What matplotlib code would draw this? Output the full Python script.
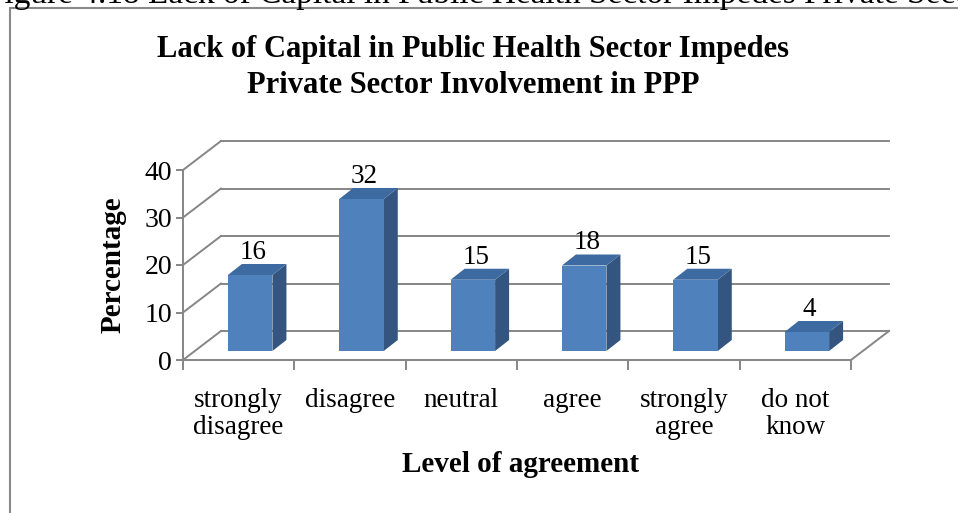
import numpy as np
import matplotlib.pyplot as plt
from matplotlib.patches import Polygon, Rectangle

# datos del grafico
categorias = ["strongly\ndisagree", "disagree", "neutral", "agree", "strongly\nagree", "do not\nknow"]
valores = [16, 32, 15, 18, 15, 4]
yticks = [0, 10, 20, 30, 40]

titulo = "Lack of Capital in Public Health Sector Impedes\nPrivate Sector Involvement in PPP"
caption = "Figure 4.18 Lack of Capital in Public Health Sector Impedes Private Sector Involvement in PPP"

plt.rcParams['font.family'] = ['Liberation Serif', 'DejaVu Serif']

W, H = 958, 513
fig = plt.figure(figsize=(W / 100, H / 100), dpi=100)

# ejes: x 0..6 -> px 183..851, y 0..40 -> px 360..170
x0px, x1px = 183, 851
y0px, y1px = 360, 170
ax = fig.add_axes([x0px / W, 1 - y0px / H, (x1px - x0px) / W, (y0px - y1px) / H])
ax.set_xlim(0, len(categorias))
ax.set_ylim(0, 40)

sx = (x1px - x0px) / len(categorias)   # px por categoria
sy = (y0px - y1px) / 40.0              # px por unidad
DX = 38 / sx       # profundidad de la pared
DY = 29 / sy
gris = '#868686'

# pared del fondo y piso
for t in yticks:
    ax.plot([0, DX], [t, t + DY], color=gris, lw=1.4, clip_on=False, zorder=1)
    ax.plot([DX, len(categorias) + DX], [t + DY, t + DY], color=gris, lw=1.4, clip_on=False, zorder=1)
ax.plot([len(categorias), len(categorias) + DX], [0, DY], color=gris, lw=1.4, clip_on=False, zorder=1)

# barras 3D
w = 0.40
bx = 11.5 / sx
by = 9 / sy
ddx = 14 / sx
ddy = 11 / sy
frente = '#4F81BD'
arriba = '#3D6BA1'
lado = '#34557F'
for i, v in enumerate(valores):
    xl = i + 0.5 - w / 2 + bx
    xr = xl + w
    b = by
    ax.add_patch(Polygon([[xr, b], [xr + ddx, b + ddy], [xr + ddx, b + ddy + v], [xr, b + v]],
                         closed=True, fc=lado, ec='none', clip_on=False, zorder=3))
    ax.add_patch(Polygon([[xl, b + v], [xr, b + v], [xr + ddx, b + v + ddy], [xl + ddx, b + v + ddy]],
                         closed=True, fc=arriba, ec='none', clip_on=False, zorder=3))
    ax.add_patch(Rectangle((xl, b), w, v, fc=frente, ec='none', clip_on=False, zorder=4))
    ax.text((xl + xr) / 2 + ddx * 0.2, b + v + ddy - 0.2, str(v), ha='center', va='bottom',
            fontsize=19.5, zorder=5)

# ejes y ticks
for s in ['top', 'right']:
    ax.spines[s].set_visible(False)
for s in ['left', 'bottom']:
    ax.spines[s].set_color(gris)
    ax.spines[s].set_linewidth(1.4)
ax.set_yticks(yticks)
ax.set_yticklabels([str(t) for t in yticks], fontsize=20)
ax.set_xticks(np.arange(len(categorias) + 1))
ax.set_xticklabels([])
ax.set_xticks(np.arange(len(categorias)) + 0.5, minor=True)
ax.set_xticklabels(categorias, minor=True, fontsize=19.5, linespacing=1.1)
ax.tick_params(axis='x', which='major', length=7, color=gris, width=1.4)
ax.tick_params(axis='x', which='minor', length=0, pad=20)
ax.tick_params(axis='y', length=5, color=gris, width=1.4, pad=3)
ax.patch.set_alpha(0)

ax.set_ylabel("Percentage", fontsize=21, fontweight='bold')
ax.yaxis.set_label_coords((127 - x0px) / (x1px - x0px), 0.5)
ax.set_xlabel("Level of agreement", fontsize=21, fontweight='bold')
ax.xaxis.set_label_coords((520 - x0px) / (x1px - x0px), -(451 - y0px) / (y0px - y1px))

# titulo (va='baseline' alinea la ultima linea)
fig.text(473 / W, 1 - 93 / H, titulo, ha='center', va='baseline', fontsize=22, fontweight='bold',
         linespacing=1.3)

# marco y leyenda de figura cortada
fig.patches.append(Rectangle((10 / W, -0.1), 1.2, 1 - 8.5 / H + 0.1, transform=fig.transFigure,
                             fill=False, ec='#8a8a8a', lw=1.5))
fig.text(-14 / W, 1 - 3 / H, caption, ha='left', va='baseline', fontsize=24)

fig.savefig("out.png", dpi=100)
